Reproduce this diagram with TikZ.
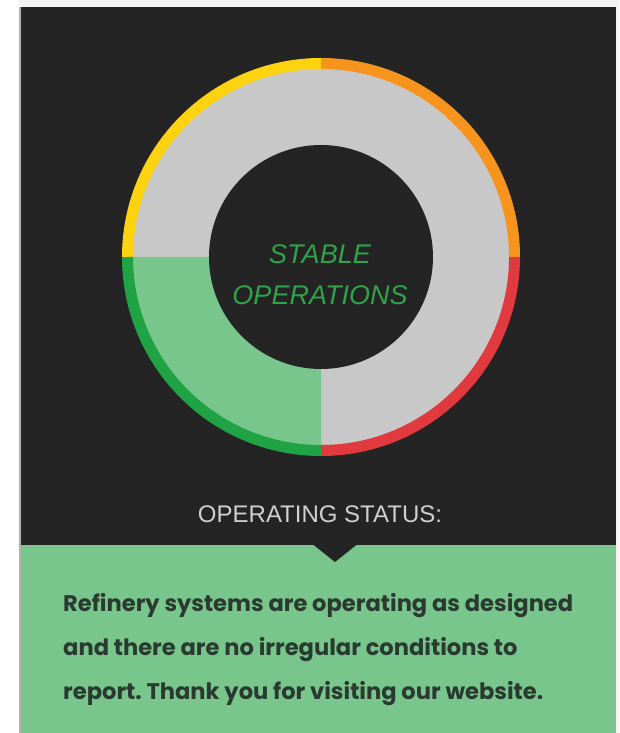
\documentclass[tikz,border=0pt]{standalone}
\usepackage{fontspec}
\setmainfont{Liberation Sans}
\newfontfamily\bodyfont{Poppins}
\newfontfamily\labelfont{Liberation Sans}
\frenchspacing
\definecolor{panelbg}{HTML}{242424}
\definecolor{ringgray}{HTML}{C8C8C8}
\definecolor{lightgreen}{HTML}{78C68C}
\definecolor{arcgreen}{HTML}{1FA345}
\definecolor{arcred}{HTML}{E03A3E}
\definecolor{arcorange}{HTML}{F7941D}
\definecolor{arcyellow}{HTML}{FDD20E}
\definecolor{titlegreen}{HTML}{2FA34C}
\definecolor{statusgray}{HTML}{D0D0D0}
\definecolor{bodytext}{HTML}{2A3A30}
\definecolor{topstrip}{HTML}{F3F3F3}
\begin{document}
\begin{tikzpicture}[x=1pt,y=1pt,
  ringarc/.style={line width=11pt, line cap=butt},
  titletext/.style={font=\labelfont\itshape\fontsize{27}{32}\selectfont, text=titlegreen, anchor=base, inner sep=0pt},
  statustext/.style={font=\labelfont\fontsize{24}{28}\selectfont, text=statusgray, anchor=base, inner sep=0pt},
  bodyline/.style={font=\bodyfont\bfseries\fontsize{22.6}{28}\selectfont, text=bodytext, anchor=base west, inner sep=0pt}]
\useasboundingbox (0,0) rectangle (619,733);
% page background
\fill[white] (0,0) rectangle (619,733);
\fill[topstrip] (19,726) rectangle (619,733);
\fill[topstrip] (616,0) rectangle (619,733);
% panels
\fill[panelbg] (19,188) rectangle (616,726);
\fill[lightgreen] (19,0) rectangle (616,188);
\fill[gray!60] (19,0) rectangle (20.5,726);
\fill[panelbg] (313,188.5) -- (357,188.5) -- (335,171) -- cycle;
% gauge
\coordinate (c) at (321,476);
\fill[ringgray] (c) circle[radius=188.5];
\fill[lightgreen] (c) -- ++(180:188.5) arc[start angle=180, end angle=270, radius=188.5] -- cycle;
\fill[panelbg] (c) circle[radius=112];
\draw[ringarc, arcorange] (c) ++(0:193.5) arc[start angle=0, end angle=90, radius=193.5];
\draw[ringarc, arcyellow] (c) ++(90:193.5) arc[start angle=90, end angle=180, radius=193.5];
\draw[ringarc, arcgreen] (c) ++(180:193.5) arc[start angle=180, end angle=270, radius=193.5];
\draw[ringarc, arcred] (c) ++(270:193.5) arc[start angle=270, end angle=360, radius=193.5];
% texts
\node[titletext] (t1) at (320,469) {STABLE};
\node[titletext] (t2) at (320,428) {OPERATIONS};
\node[statustext] (st) at (320,210) {OPERATING STATUS:};
\node[bodyline] (b1) at (63,121) {Refinery systems are operating as designed};
\node[bodyline] (b2) at (63,77) {and there are no irregular conditions to};
\node[bodyline] (b3) at (63,33) {report. Thank you for visiting our website.};
\end{tikzpicture}
\end{document}
